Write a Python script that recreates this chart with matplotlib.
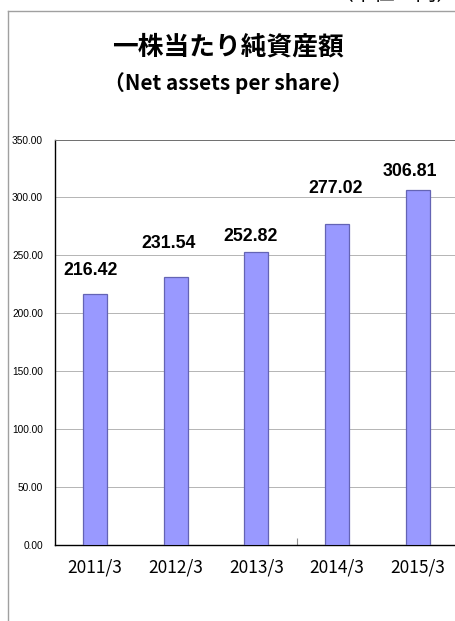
import numpy as np
import matplotlib
matplotlib.use('Agg')
import matplotlib.pyplot as plt
from matplotlib import font_manager
from matplotlib.lines import Line2D

# データ
periods = ['2011/3', '2012/3', '2013/3', '2014/3', '2015/3']
values = [216.42, 231.54, 252.82, 277.02, 306.81]
y_ticks = [0, 50, 100, 150, 200, 250, 300, 350]

title = '一株当たり純資産額'
subtitle = '（Net assets per share）'
unit = '（単位：円）'

# ラベル位置の微調整 (pt)
label_dx = [-2.9, -5.0, -4.3, -0.7, -5.8]
label_dy = [16.9, 23.8, 11.5, 25.9, 13.0]

jp = ['Noto Sans CJK JP', 'DejaVu Sans']
names = {f.name for f in font_manager.fontManager.ttflist}
if 'Liberation Sans Narrow' in names:
    num_font, num_size = 'Liberation Sans Narrow', 15
else:
    num_font, num_size = 'Liberation Sans', 12.8

fig = plt.figure(figsize=(4.56, 6.21), dpi=100)
W, H = 456, 621

# 外枠 (左と上だけ見えている)
fig.add_artist(Line2D([8.5 / W, 8.5 / W], [0, 1 - 10.5 / H], color='#a0a0a0', lw=1.0))
fig.add_artist(Line2D([8.5 / W, 1], [1 - 10.5 / H, 1 - 10.5 / H], color='#a0a0a0', lw=1.0))

fig.text(333 / W, 1 - 5 / H, unit, family=jp, fontsize=15, ha='left', va='bottom')
fig.text(0.5, 1 - 47 / H, title, family=jp, fontsize=18.5, fontweight='bold', ha='center', va='center')
fig.text(0.5, 1 - 83 / H, subtitle, family=jp, fontsize=15, fontweight='bold', ha='center', va='center')

ax = fig.add_axes([54.6 / W, 76 / H, 403.4 / W, 405.5 / H])
x = np.arange(len(periods))
ax.bar(x, values, width=0.3, color='#9999ff', edgecolor='#6464b4', linewidth=0.9, zorder=3)

for i, v in enumerate(values):
    ax.annotate('%.2f' % v, xy=(x[i], v), xytext=(label_dx[i], label_dy[i]),
                textcoords='offset points', ha='center', va='center',
                family=num_font, fontsize=num_size, fontweight='bold', zorder=4)

ax.set_xlim(-0.5, 4.5)
ax.set_ylim(0, 350)
ax.set_yticks(y_ticks)
ax.set_yticklabels(['%.2f' % t for t in y_ticks], family='Liberation Sans', fontsize=7.3)
ax.set_xticks(x)
ax.set_xticklabels(periods, family=jp, fontsize=12.5)
ax.set_xticks([2.5], minor=True)
ax.tick_params(axis='y', length=0, pad=8.4)
ax.tick_params(axis='x', which='major', length=0, pad=10)
ax.tick_params(axis='x', which='minor', length=5, direction='in', color='#909090', width=0.8)

ax.grid(axis='y', color='#b4b4b4', lw=0.7, zorder=0)
ax.spines['left'].set_linewidth(1.0)
ax.spines['bottom'].set_linewidth(1.0)
ax.spines['top'].set_color('#707070')
ax.spines['top'].set_linewidth(0.7)
ax.spines['right'].set_visible(False)

fig.savefig('out.png', dpi=100)
